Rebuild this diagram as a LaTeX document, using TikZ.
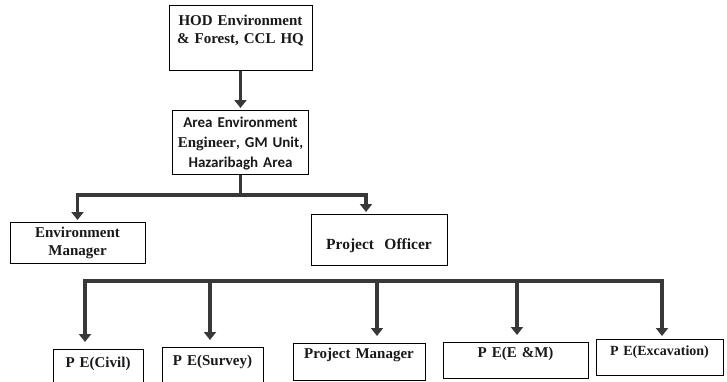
\documentclass[tikz,border=0pt]{standalone}
\usepackage{fontspec}
\setmainfont{Liberation Serif}
\newfontfamily\calib{Carlito}
\usetikzlibrary{arrows.meta}
\begin{document}
\begin{tikzpicture}[x=1pt,y=-1pt,
  box/.style={draw=black, line width=0.9pt, inner sep=0pt, anchor=north, align=center,
              text=black!90, font=\bfseries\fontsize{15}{18}\selectfont},
  conn/.style={draw=black!78, line width=3.5pt, line join=miter},
  arr/.style={conn, -{Triangle[length=8pt,width=12pt]}, shorten >=2pt},
  arrlow/.style={arr, shorten >=7pt}]
\useasboundingbox (0,0) rectangle (727,381);
\clip (0,0) rectangle (727,381);
% boxes
\node[box, text width=143pt, text height=20pt, text depth=45pt] (hod) at (240.5,5)
  {HOD Environment\\ \& Forest, CCL HQ};
\node[box, text width=136pt, text height=17pt, text depth=47pt,
      font=\calib\bfseries\fontsize{15}{20}\selectfont] (aee) at (240.5,110)
  {Area Environment\\ {\rmfamily Engineer}, GM Unit,\\ Hazaribagh Area};
\node[box, text width=135pt, text height=15pt, text depth=26pt] (em) at (77.5,222)
  {Environment\\ Manager};
\node[box, text width=136pt, text height=35pt, text depth=16pt,
      font=\bfseries\fontsize{15.5}{18}\selectfont] (po) at (379,214)
  {Project~ Officer};
\node[box, text width=90pt, text height=18pt, text depth=42pt] (civil) at (98,349)
  {P E(Civil)};
\node[box, text width=101pt, text height=18pt, text depth=42pt] (survey) at (212.5,347)
  {P E(Survey)};
\node[box, text width=132pt, text height=15pt, text depth=22pt] (pm) at (359,343)
  {Project Manager};
\node[box, text width=145pt, text height=15pt, text depth=21pt] (em2) at (515.5,342)
  {P E(E \&M)};
\node[box, text width=127pt, text height=16pt, text depth=20pt,
      font=\bfseries\fontsize{14}{18}\selectfont] (exc) at (659.5,339)
  {P E(Excavation)};
% connectors
\draw[arr] (hod.south) -- (aee.north);
\coordinate (y1) at (0,195);
\coordinate (b1) at (aee.south |- y1);
\draw[conn] (aee.south) -- (b1);
\draw[arr] (b1) -| (em.north);
\draw[arr] (b1) -| ([xshift=-13pt]po.north);
\coordinate (b2) at (377,281);
\draw[arrlow] (b2) -| ([xshift=-13pt]civil.north);
\draw[arrlow] (b2) -| ([xshift=-2.5pt]survey.north);
\draw[arrlow] (b2) -- (b2 |- pm.north);
\draw[arrlow] (b2) -| ([xshift=1.5pt]em2.north);
\draw[arrlow, shorten >=3pt] (b2) -| ([xshift=2.5pt]exc.north);
\end{tikzpicture}
\end{document}
